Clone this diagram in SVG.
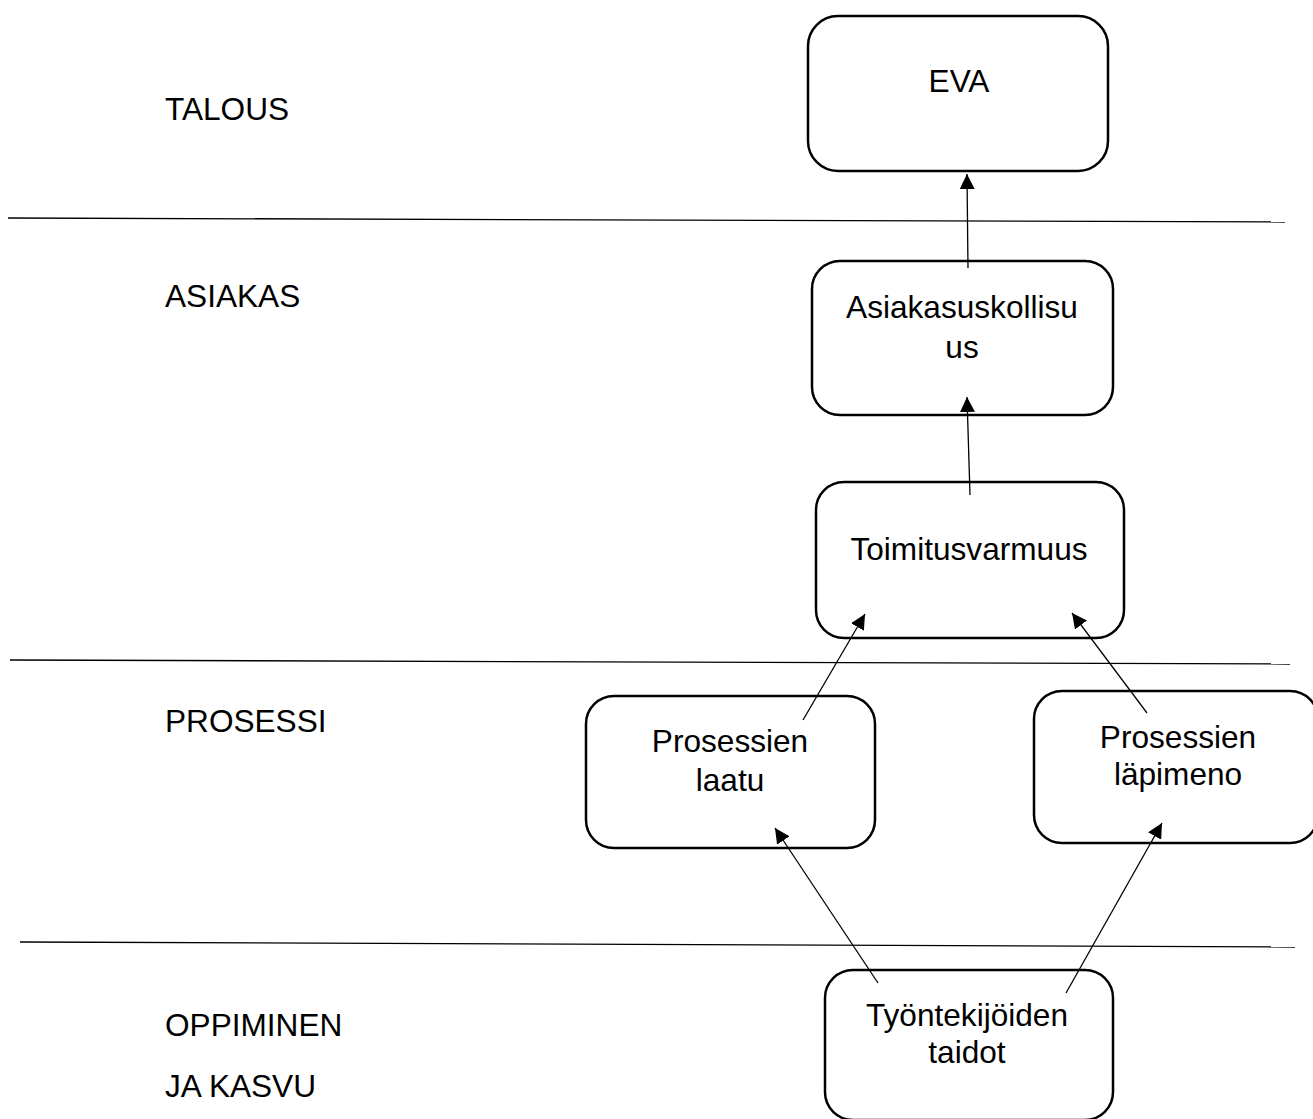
<svg xmlns="http://www.w3.org/2000/svg" width="1313" height="1119" viewBox="0 0 1313 1119">
<style>
.box{fill:#fff;stroke:#000;stroke-width:2.5}
.sep{stroke:#000;stroke-width:1.3;fill:none}
.con{stroke:#000;stroke-width:1.3;fill:none;marker-end:url(#ah)}
text{font-family:"Liberation Sans",Arial,sans-serif;font-size:31.6px;fill:#000}
.c{text-anchor:middle}
</style>
<defs>
<marker id="ah" viewBox="0 0 15 15" refX="15" refY="7.5" markerWidth="15" markerHeight="15" markerUnits="userSpaceOnUse" orient="auto">
<path d="M0,0 L15,7.5 L0,15 Z" fill="#000"/>
</marker>
</defs>
<rect width="1313" height="1119" fill="#fff"/>
<g id="separators">
<line class="sep" x1="8" y1="218" x2="1285" y2="222"/>
<line class="sep" x1="10" y1="660" x2="1290" y2="664"/>
<line class="sep" x1="20" y1="942" x2="1295" y2="947"/>
</g>
<g id="labels">
<text x="165" y="120">TALOUS</text>
<text x="165" y="307">ASIAKAS</text>
<text x="165" y="732">PROSESSI</text>
<text x="165" y="1036">OPPIMINEN</text>
<text x="165" y="1097">JA KASVU</text>
</g>
<g id="eva"><rect class="box" x="808" y="16" width="300" height="155" rx="30"/><text class="c" x="959" y="92">EVA</text></g>
<g id="asiakasuskollisuus"><rect class="box" x="812" y="261" width="301" height="154" rx="28"/><text class="c" x="962" y="318">Asiakasuskollisu</text><text class="c" x="962" y="358">us</text></g>
<g id="toimitusvarmuus"><rect class="box" x="816" y="482" width="308" height="156" rx="28"/><text class="c" x="969" y="560">Toimitusvarmuus</text></g>
<g id="prosessien-laatu"><rect class="box" x="586" y="696" width="289" height="152" rx="28"/><text class="c" x="730" y="752">Prosessien</text><text class="c" x="730" y="791">laatu</text></g>
<g id="prosessien-lapimeno"><rect class="box" x="1034" y="691" width="284" height="152" rx="28"/><text class="c" x="1178" y="748">Prosessien</text><text class="c" x="1178" y="785">läpimeno</text></g>
<g id="tyontekijoiden-taidot"><rect class="box" x="825" y="970" width="288" height="150" rx="28"/><text class="c" x="967" y="1026">Työntekijöiden</text><text class="c" x="967" y="1063">taidot</text></g>
<g id="connectors">
<line class="con" x1="968" y1="268" x2="967" y2="174"/>
<line class="con" x1="970" y1="495" x2="967" y2="397"/>
<line class="con" x1="803" y1="720" x2="865" y2="614"/>
<line class="con" x1="1147" y1="713" x2="1072" y2="613"/>
<line class="con" x1="878" y1="983" x2="775" y2="828"/>
<line class="con" x1="1066" y1="993" x2="1162" y2="823"/>
</g>
</svg>
